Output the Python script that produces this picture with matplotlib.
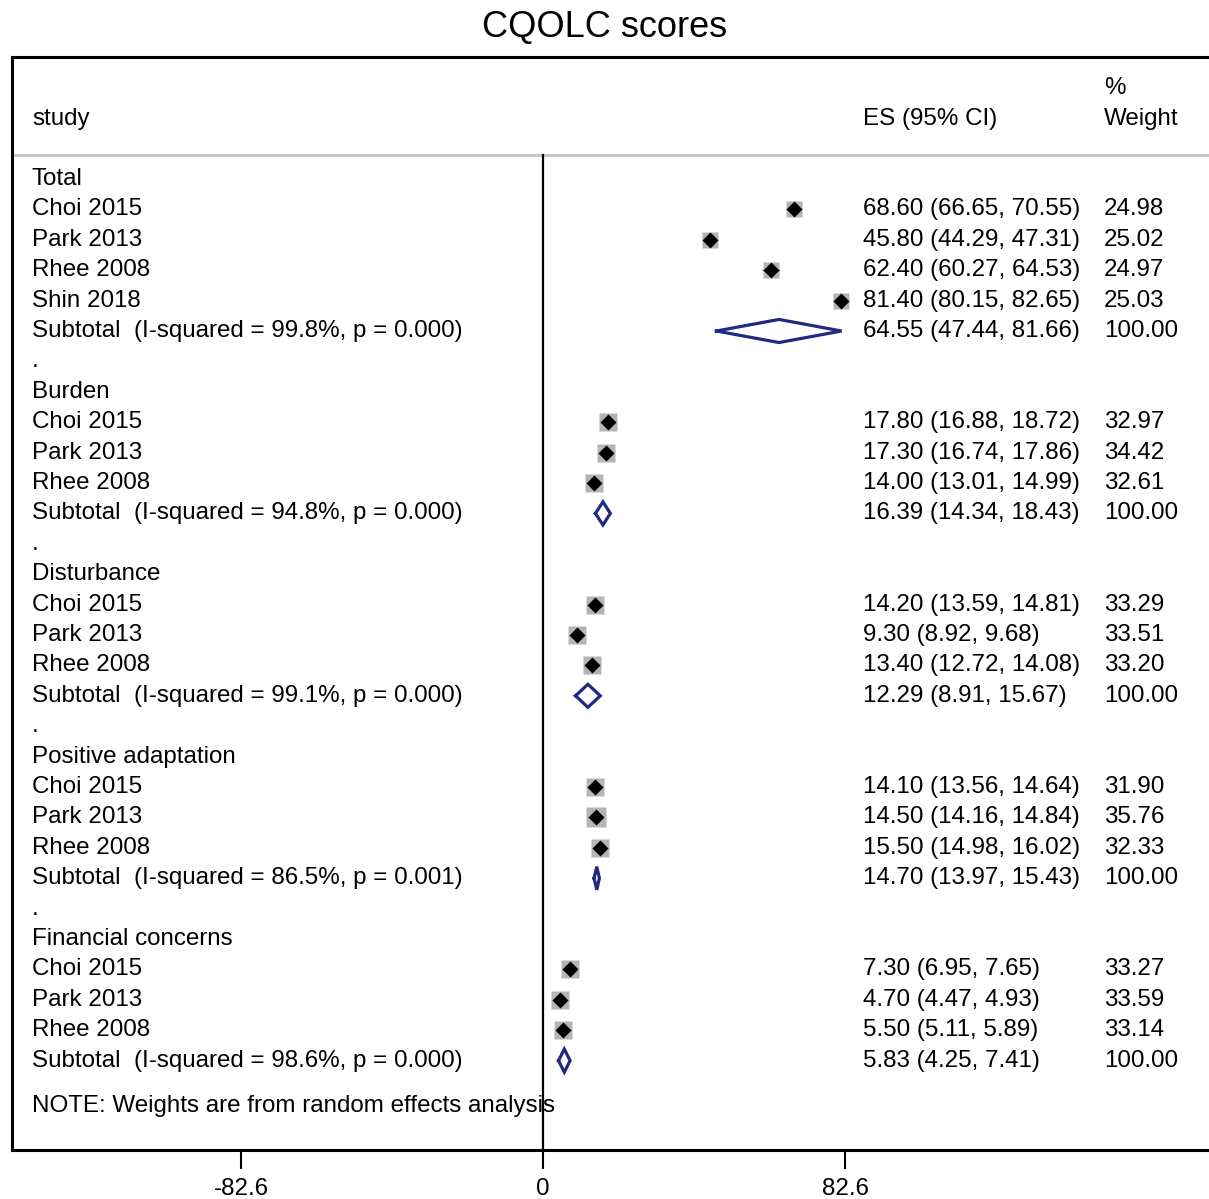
import matplotlib
matplotlib.use("Agg")
import matplotlib.pyplot as plt
import numpy as np
from matplotlib.transforms import blended_transform_factory

plt.rcParams['font.family'] = ['Liberation Sans', 'DejaVu Sans']

# ---- data ----
groups = ["Total", "Burden", "Disturbance", "Positive adaptation", "Financial concerns"]
studies = [
    ["Choi 2015", "Park 2013", "Rhee 2008", "Shin 2018"],
    ["Choi 2015", "Park 2013", "Rhee 2008"],
    ["Choi 2015", "Park 2013", "Rhee 2008"],
    ["Choi 2015", "Park 2013", "Rhee 2008"],
    ["Choi 2015", "Park 2013", "Rhee 2008"],
]
es = [
    [68.60, 45.80, 62.40, 81.40],
    [17.80, 17.30, 14.00],
    [14.20, 9.30, 13.40],
    [14.10, 14.50, 15.50],
    [7.30, 4.70, 5.50],
]
ci_low = [
    [66.65, 44.29, 60.27, 80.15],
    [16.88, 16.74, 13.01],
    [13.59, 8.92, 12.72],
    [13.56, 14.16, 14.98],
    [6.95, 4.47, 5.11],
]
ci_high = [
    [70.55, 47.31, 64.53, 82.65],
    [18.72, 17.86, 14.99],
    [14.81, 9.68, 14.08],
    [14.64, 14.84, 16.02],
    [7.65, 4.93, 5.89],
]
weights = [
    [24.98, 25.02, 24.97, 25.03],
    [32.97, 34.42, 32.61],
    [33.29, 33.51, 33.20],
    [31.90, 35.76, 32.33],
    [33.27, 33.59, 33.14],
]
sub_es = [64.55, 16.39, 12.29, 14.70, 5.83]
sub_low = [47.44, 14.34, 8.91, 13.97, 4.25]
sub_high = [81.66, 18.43, 15.67, 15.43, 7.41]
i_squared = ["99.8%", "94.8%", "99.1%", "86.5%", "98.6%"]
p_values = ["0.000", "0.000", "0.000", "0.001", "0.000"]
axis_ticks = [-82.6, 0, 82.6]

# ---- figure / layout (pixel based) ----
W, H = 1209, 1199
fig = plt.figure(figsize=(W / 100, H / 100), dpi=100)
box_l, box_r, box_t, box_b = 12, 1215, 57, 1150
ax = fig.add_axes([box_l / W, (H - box_b) / H, (box_r - box_l) / W, (box_b - box_t) / H])

px_per_unit = 302 / 82.6
zero_px = 543
ax.set_xlim((box_l - zero_px) / px_per_unit, (box_r - zero_px) / px_per_unit)
row0_px, row_step = 179, 30.4
ax.set_ylim((box_b - row0_px) / row_step, (box_t - row0_px) / row_step)

tr = blended_transform_factory(fig.transFigure, ax.transData)
fs = 17.4
col_lab, col_es, col_w = 32 / W, 863 / W, 1104 / W

navy = "#1f2a80"
sq_grey = "#b4b4b4"

row = 0
for g in range(len(groups)):
    ax.text(col_lab, row, groups[g], transform=tr, fontsize=fs, va="center")
    row += 1
    for k in range(len(studies[g])):
        e, lo, hi, w = es[g][k], ci_low[g][k], ci_high[g][k], weights[g][k]
        side = 18.5 * np.sqrt(w / 33.0) * 0.72  # points
        ax.plot([lo, hi], [row, row], color="black", lw=1, zorder=2)
        ax.plot(e, row, marker="s", ms=max(side, 12.0), color=sq_grey, mec="none", zorder=3)
        ax.plot(e, row, marker="D", ms=8.5, color="black", mec="none", zorder=4)
        ax.text(col_lab, row, studies[g][k], transform=tr, fontsize=fs, va="center")
        ax.text(col_es, row, f"{e:.2f} ({lo:.2f}, {hi:.2f})", transform=tr, fontsize=fs, va="center")
        ax.text(col_w, row, f"{w:.2f}", transform=tr, fontsize=fs, va="center")
        row += 1
    # subtotal diamond
    dx = [sub_low[g], sub_es[g], sub_high[g], sub_es[g], sub_low[g]]
    dy = [row, row - 0.38, row, row + 0.38, row]
    ax.plot(dx, dy, color=navy, lw=2.3, zorder=4, solid_joinstyle="miter")
    ax.text(col_lab, row, f"Subtotal  (I-squared = {i_squared[g]}, p = {p_values[g]})",
            transform=tr, fontsize=fs, va="center")
    ax.text(col_es, row, f"{sub_es[g]:.2f} ({sub_low[g]:.2f}, {sub_high[g]:.2f})",
            transform=tr, fontsize=fs, va="center")
    ax.text(col_w, row, "100.00", transform=tr, fontsize=fs, va="center")
    row += 1
    if g < len(groups) - 1:
        ax.text(col_lab, row, ".", transform=tr, fontsize=fs, va="center")
        row += 1

ax.text(col_lab, row + 0.5, "NOTE: Weights are from random effects analysis",
        transform=tr, fontsize=fs, va="center")

# header
hdr_y = (119 - row0_px) / row_step
pct_y = (88 - row0_px) / row_step
sep_y = (155 - row0_px) / row_step
ax.text(col_lab, hdr_y, "study", transform=tr, fontsize=fs, va="center")
ax.text(col_es, hdr_y, "ES (95% CI)", transform=tr, fontsize=fs, va="center")
ax.text(col_w, pct_y, "%", transform=tr, fontsize=fs, va="center")
ax.text(col_w, hdr_y, "Weight", transform=tr, fontsize=fs, va="center")
ax.axhline(sep_y, color="#c4c8cc", lw=2.2, zorder=1)

# null line
ax.plot([0, 0], [sep_y, ax.get_ylim()[0]], color="black", lw=1.6, zorder=1)

# axis
for s in ["top", "left", "bottom", "right"]:
    ax.spines[s].set_linewidth(2.2)
ax.set_yticks([])
ax.set_xticks(axis_ticks)
ax.set_xticklabels(["-82.6", "0", "82.6"], fontsize=fs)
ax.tick_params(axis="x", direction="out", length=14, width=1.5, pad=6)

fig.text(0.5, 1 - 27 / H, "CQOLC scores", ha="center", va="center", fontsize=26)

fig.savefig("out.png", dpi=100)
